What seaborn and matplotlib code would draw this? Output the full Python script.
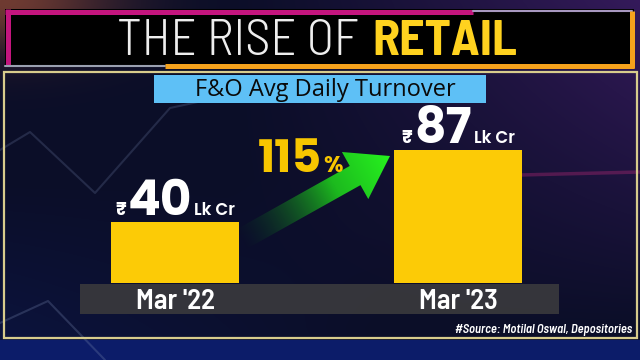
import numpy as np
import matplotlib
matplotlib.use("Agg")
import matplotlib.pyplot as plt
import seaborn as sns
from matplotlib.patches import Rectangle, Polygon
from matplotlib.offsetbox import TextArea, HPacker, AnnotationBbox

periods = ["Mar '22", "Mar '23"]
turnover = [40, 87]          # Rs lakh crore
growth = 115                 # % change
title_plain = "THE RISE OF "
title_bold = "RETAIL"
subtitle = "F&O Avg Daily Turnover"
source = "#Source: Motilal Oswal, Depositories"

COND = ["Barlow Semi Condensed", "DejaVu Sans"]
GEO = ["Poppins", "DejaVu Sans"]
BAR_COLOR = "#fccb06"

sns.set_style("white")
plt.rcParams["font.family"] = ["DejaVu Sans"]

fig = plt.figure(figsize=(6.4, 3.6), dpi=100)

# background layer, in pixel units (y going down)
bg = fig.add_axes([0, 0, 1, 1])
bg.axis("off")
H, W = 360, 640
yy, xx = np.mgrid[0:H, 0:W] / np.array([H, W])[:, None, None]
img = np.zeros((H, W, 3))
img[:] = np.array([11, 14, 40]) / 255
purple = np.clip(xx - 0.35, 0, 1) ** 1.2 * np.clip(1 - yy * 1.1, 0, 1)
img += purple[..., None] * np.array([70, 20, 85]) / 255
red = np.exp(-(xx ** 2 / 0.03 + yy ** 2 / 0.02))
img += red[..., None] * np.array([100, 45, 10]) / 255
blue = np.clip((yy - 0.5) * 2, 0, 1) * np.clip(0.6 - xx, 0, 1)
img += blue[..., None] * np.array([0, 10, 40]) / 255
img[yy > 339 / 360] = np.array([12, 28, 105]) / 255
bg.imshow(np.clip(img, 0, 1), extent=(0, 640, 360, 0), origin="upper",
          aspect="auto", zorder=0)

# faint market lines in the backdrop
bg.plot([0, 30, 95, 170, 230], [150, 132, 193, 108, 95], color="#7080a8",
        alpha=0.25, lw=1.5, zorder=1)
bg.plot([0, 48, 105], [323, 301, 360], color="#7080a8", alpha=0.3, lw=1.5, zorder=1)
bg.plot([520, 640], [175, 172], color="#c02a7a", alpha=0.35, lw=2.5, zorder=1)

# title box
bg.add_patch(Rectangle((5, 9), 629, 58, facecolor="black", edgecolor="none", zorder=2))
bg.plot([7.5, 7.5], [9, 65], color="#c4157e", lw=3.6, solid_capstyle="butt", zorder=3)
bg.plot([5, 473], [11.5, 11.5], color="#c4157e", lw=3.6, solid_capstyle="butt", zorder=3)
bg.plot([473, 632], [11, 11], color="#a898c0", lw=1.5, zorder=3)
bg.plot([631.5, 631.5], [11, 68], color="#f5a21c", lw=3.6, solid_capstyle="butt", zorder=3)
bg.plot([5, 165], [65.5, 65.5], color="#9aa0b0", lw=1.5, zorder=3)
bg.plot([165, 634], [65.5, 65.5], color="#f5a21c", lw=3.6, solid_capstyle="butt", zorder=3)
bg.text(369, 55, title_plain, ha="right", va="baseline", fontsize=36.5,
        family=COND, fontweight=300, color="#eeeeee", zorder=4)
bg.text(372, 55, title_bold, ha="left", va="baseline", fontsize=36,
        family=COND, fontweight="bold", color="#ffd21f", zorder=4)

# chart panel
bg.add_patch(Rectangle((3.5, 71.5), 633, 266.5, facecolor="none",
                       edgecolor="#d8cc8c", lw=1.6, zorder=2))
bg.add_patch(Rectangle((154, 75), 332, 28, facecolor="#5ec0f6", edgecolor="none", zorder=2))
bg.text(325, 89.5, subtitle, ha="center", va="center", fontsize=17,
        family=["Open Sans", "DejaVu Sans"], color="#0a0a0a", zorder=3)
bg.add_patch(Rectangle((80, 284), 479, 30, facecolor="#38383c", edgecolor="none",
                       alpha=0.95, zorder=2))
bg.text(632, 330, source, ha="right", va="center", fontsize=9, family=COND,
        fontweight=600, style="italic", color="white", zorder=3)

# growth arrow with a fading green fill
tail = np.array([240.0, 240.0])
tip = np.array([390.0, 156.0])
vec = tip - tail
L = np.hypot(*vec)
u = vec / L
n = np.array([-u[1], u[0]])
shaft_hw, head_hw, head_len = 11, 27, 40
base = tip - head_len * u
pts = np.array([tail + shaft_hw * n, base + shaft_hw * n, base + head_hw * n, tip,
                base - head_hw * n, base - shaft_hw * n, tail - shaft_hw * n])
arrow = Polygon(pts, closed=True, facecolor="none", edgecolor="none", zorder=3)
bg.add_patch(arrow)
x0, x1 = pts[:, 0].min(), pts[:, 0].max()
y0, y1 = pts[:, 1].min(), pts[:, 1].max()
gx, gy = np.meshgrid(np.linspace(x0, x1, 300), np.linspace(y0, y1, 300))
t = np.clip(((gx - tail[0]) * u[0] + (gy - tail[1]) * u[1]) / L, 0, 1)
c0 = np.array([0.05, 0.35, 0.12])
c1 = np.array([0.15, 0.95, 0.12])
rgba = np.zeros(gx.shape + (4,))
rgba[..., :3] = c0 + (c1 - c0) * t[..., None]
rgba[..., 3] = np.clip(t * 1.6, 0, 1) ** 1.2
im = bg.imshow(rgba, extent=(x0, x1, y1, y0), origin="upper", aspect="auto", zorder=3)
im.set_clip_path(arrow)

bg.text(322, 172, str(growth), ha="right", va="baseline", fontsize=33, family=GEO,
        fontweight="bold", color="#f7c600", zorder=4)
bg.text(323, 172, "%", ha="left", va="baseline", fontsize=16, family=GEO,
        fontweight="bold", color="#f7c600", zorder=4)

bg.set_xlim(0, 640)
bg.set_ylim(360, 0)

# bars
ax = fig.add_axes([80 / 640, 77 / 360, 479 / 640, 211 / 360])
ax.patch.set_alpha(0)
sns.barplot(x=periods, y=turnover, color=BAR_COLOR, saturation=1, width=0.452,
            ax=ax, edgecolor="none")
ax.set_xlim(-0.336, 1.357)
ax.set_ylim(0, 138)
ax.set_yticks([])
ax.set_xlabel("")
ax.set_ylabel("")
for s in ax.spines.values():
    s.set_visible(False)
ax.tick_params(axis="x", length=0, pad=4.5, colors="white")
for lbl in ax.get_xticklabels():
    lbl.set_fontfamily(COND)
    lbl.set_fontweight(600)
    lbl.set_fontsize(20.5)

for i, v in enumerate(turnover):
    parts = [
        TextArea("₹", textprops=dict(color="white", fontsize=13, family=GEO,
                                     fontweight="bold")),
        TextArea(str(v), textprops=dict(color="white", fontsize=35, fontweight="bold",
                                        family=GEO)),
        TextArea("Lk Cr", textprops=dict(color="white", fontsize=12, fontweight="semibold",
                                         family=GEO)),
    ]
    pack = HPacker(children=parts, align="baseline", pad=0, sep=1.5)
    ab = AnnotationBbox(pack, (i, v), xybox=(0, -4.3), xycoords="data",
                        boxcoords="offset points", box_alignment=(0.5, 0),
                        frameon=False, pad=0)
    ax.add_artist(ab)

fig.savefig("out.png", dpi=100)
